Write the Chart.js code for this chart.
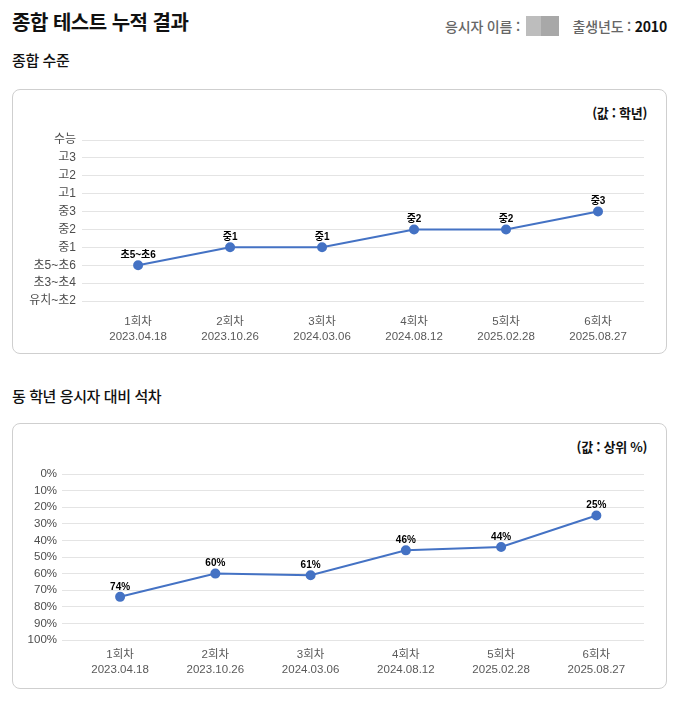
<!DOCTYPE html>
<html lang="ko">
<head>
<meta charset="utf-8">
<script src="https://cdn.jsdelivr.net/npm/chart.js@4"></script>
<style>
  html, body { margin: 0; padding: 0; background: #fff; }
  body { width: 693px; height: 715px; position: relative; font-family: "Noto Sans CJK KR", "Noto Sans", sans-serif; }
  .title { position: absolute; left: 12px; top: 7px; font-size: 20px; font-weight: 700; color: #111; letter-spacing: -0.5px; }
  .info { position: absolute; right: 26px; top: 16px; font-size: 14px; color: #666; font-weight: 500; letter-spacing: -0.2px; display: flex; align-items: center; }
  .info b { color: #111; font-weight: 700; }
  .blur { display: inline-block; width: 33px; height: 20px; margin: 0 14px 0 2px; background: linear-gradient(90deg, #bdbdbd 0 45%, #a8a8a8 45% 100%); }
  .sub { position: absolute; left: 12px; font-size: 15px; font-weight: 500; color: #111; letter-spacing: -0.4px; }
  .card { position: absolute; left: 12px; width: 653px; border: 1px solid #cfcfcf; border-radius: 8px; }
  .card canvas { position: absolute; left: 0; top: 0; }
  .unit { position: absolute; right: 19px; font-size: 13px; font-weight: 700; color: #111; letter-spacing: -0.3px; }
</style>
</head>
<body>
<div class="title">종합 테스트 누적 결과</div>
<div class="info">응시자 이름 :&nbsp;<span class="blur"></span>출생년도 :&nbsp;<b>2010</b></div>

<div class="sub" style="top:49px">종합 수준</div>
<div class="card" style="top:89px;height:263px">
  <div class="unit" style="top:13px">(값 : 학년)</div>
  <canvas id="chart-level" width="653" height="263"></canvas>
</div>

<div class="sub" style="top:385px">동 학년 응시자 대비 석차</div>
<div class="card" style="top:423px;height:264px">
  <div class="unit" style="top:13px">(값 : 상위 %)</div>
  <canvas id="chart-rank" width="653" height="264"></canvas>
</div>

<script>
const rounds = ["1회차", "2회차", "3회차", "4회차", "5회차", "6회차"];
const testDates = ["2023.04.18", "2023.10.26", "2024.03.06", "2024.08.12", "2025.02.28", "2025.08.27"];
// grade scale, bottom to top
const grades = ["유치~초2", "초3~초4", "초5~초6", "중1", "중2", "중3", "고1", "고2", "고3", "수능"];
const levelValues = [2, 3, 3, 4, 4, 5];
const rankTicks = [0, 10, 20, 30, 40, 50, 60, 70, 80, 90, 100];
const rankValues = [74, 60, 61, 46, 44, 25];

const BLUE = "#4472C4";
const tickFont = { family: "'Liberation Sans', 'Noto Sans CJK KR', sans-serif", size: 11.5 };

const pointLabels = {
  id: "pointLabels",
  afterDatasetsDraw(chart, args, opts) {
    const { ctx } = chart;
    const meta = chart.getDatasetMeta(0);
    ctx.save();
    ctx.font = "bold 10px 'Liberation Sans', 'Noto Sans CJK KR', sans-serif";
    ctx.fillStyle = "#000";
    ctx.textAlign = "center";
    ctx.textBaseline = "middle";
    meta.data.forEach((pt, i) => {
      ctx.fillText(opts.text(chart.data.datasets[0].data[i].y), pt.x, pt.y - 10);
    });
    ctx.restore();
  },
};

function makeChart(id, values, yOpts, label, axisWidth, xAxisHeight, xTickPad, top, yFontSize) {
  return new Chart(document.getElementById(id), {
    type: "line",
    data: {
      datasets: [{
        data: values.map((v, i) => ({ x: i, y: v })),
        borderColor: BLUE,
        backgroundColor: BLUE,
        borderWidth: 2,
        pointRadius: 4,
        pointHoverRadius: 4,
        tension: 0,
      }],
    },
    options: {
      responsive: false,
      animation: false,
      events: [],
      layout: { padding: { top: top, right: 22, bottom: 0, left: 0 } },
      plugins: { legend: { display: false }, tooltip: { enabled: false }, pointLabels: { text: label } },
      scales: {
        x: {
          type: "linear",
          min: -0.61,
          max: 5.5,
          afterBuildTicks: (s) => { s.ticks = rounds.map((_, i) => ({ value: i })); },
          afterFit: (s) => { s.height = xAxisHeight; },
          grid: { display: false, drawTicks: false },
          border: { display: false },
          ticks: {
            autoSkip: false,
            maxRotation: 0,
            padding: xTickPad,
            color: "#595959",
            font: { ...tickFont, lineHeight: "15px" },
            callback: (v) => [rounds[v], testDates[v]],
          },
        },
        y: {
          ...yOpts,
          afterFit: (s) => { s.width = axisWidth; },
          grid: { color: "#e4e4e4", lineWidth: 1, drawTicks: false },
          border: { display: false },
          ticks: { ...yOpts.ticks, autoSkip: false, color: "#4d4d4d", font: { ...tickFont, size: yFontSize } },
        },
      },
    },
    plugins: [pointLabels],
  });
}

makeChart("chart-level", levelValues, {
  min: 0,
  max: grades.length - 1,
  ticks: { stepSize: 1, padding: 6, callback: (v) => grades[v] },
}, (v) => grades[v], 69, 52, 13, 50, 12);

makeChart("chart-rank", rankValues, {
  reverse: true,
  min: rankTicks[0],
  max: rankTicks[rankTicks.length - 1],
  afterBuildTicks: (s) => { s.ticks = rankTicks.map((v) => ({ value: v })); },
  ticks: { padding: 5, callback: (v) => v + "%" },
}, (v) => v + "%", 49, 48, 7, 50, 11.5);
</script>
</body>
</html>
